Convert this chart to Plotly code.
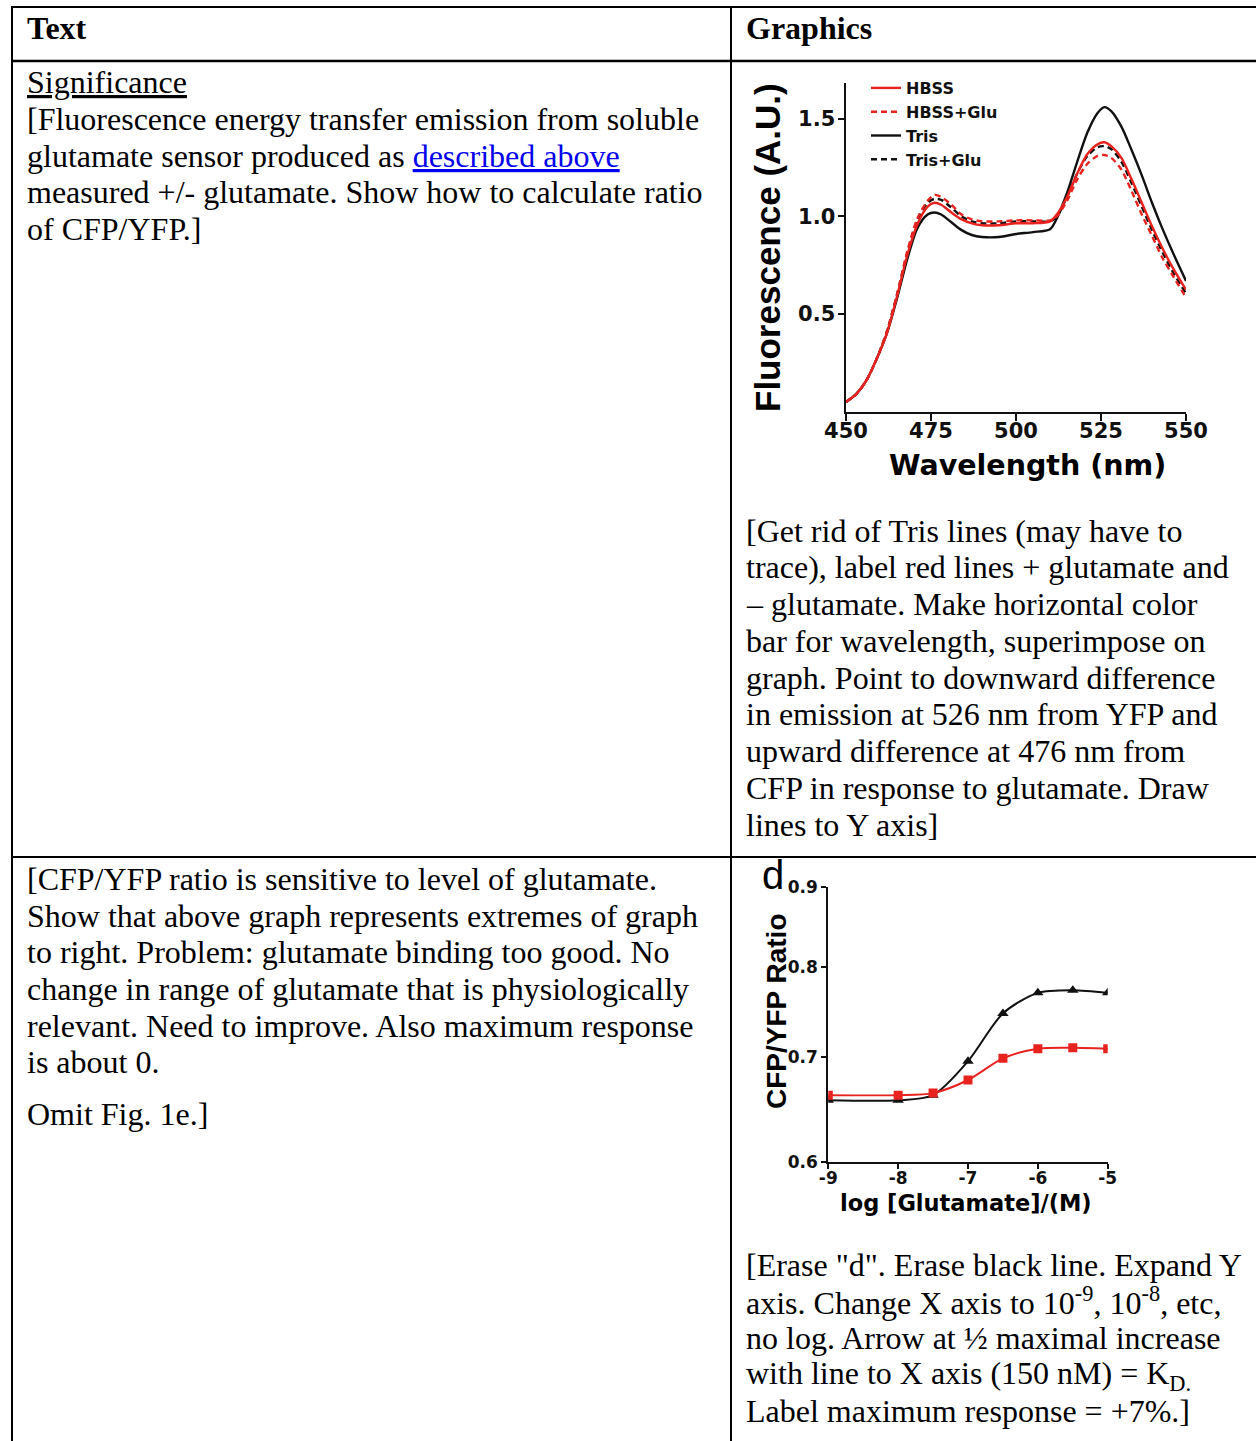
import plotly.graph_objects as go

W, H = 1256, 1441
def fx(p): return p / W
def fy(p): return 1 - p / H

# ---------------- data ----------------
wavelength = [450, 453, 456, 459, 462, 465, 468, 471, 474, 476, 478, 481, 484, 487, 490, 495,
              500, 505, 510, 512, 515, 518, 521, 524, 526, 528, 531, 534, 537, 540, 543, 546, 550]
hbss = [0.05, 0.09, 0.16, 0.27, 0.40, 0.59, 0.80, 0.96, 1.05, 1.07, 1.06, 1.02, 0.985, 0.965, 0.955, 0.955,
        0.965, 0.965, 0.975, 1.01, 1.10, 1.22, 1.32, 1.37, 1.38, 1.36, 1.30, 1.19, 1.07, 0.95, 0.84, 0.74, 0.625]
hbss_glu = [0.05, 0.09, 0.16, 0.27, 0.41, 0.60, 0.82, 0.99, 1.08, 1.11, 1.10, 1.06, 1.01, 0.985, 0.975, 0.975,
            0.98, 0.98, 0.98, 1.00, 1.08, 1.19, 1.27, 1.31, 1.315, 1.30, 1.24, 1.13, 1.01, 0.90, 0.79, 0.70, 0.585]
tris = [0.05, 0.09, 0.16, 0.27, 0.40, 0.58, 0.78, 0.94, 1.01, 1.02, 1.01, 0.97, 0.93, 0.905, 0.895, 0.895,
        0.91, 0.92, 0.935, 0.99, 1.12, 1.28, 1.43, 1.53, 1.56, 1.54, 1.46, 1.34, 1.21, 1.07, 0.94, 0.82, 0.67]
tris_glu = [0.05, 0.09, 0.16, 0.27, 0.41, 0.60, 0.81, 0.98, 1.07, 1.09, 1.085, 1.045, 1.0, 0.975, 0.965, 0.965,
            0.975, 0.975, 0.975, 1.0, 1.10, 1.22, 1.31, 1.355, 1.36, 1.345, 1.28, 1.17, 1.05, 0.93, 0.82, 0.72, 0.605]
spectrum_names = ["HBSS", "HBSS+Glu", "Tris", "Tris+Glu"]
spec_ticks = [450, 475, 500, 525, 550]
fluor_ticks = [0.5, 1.0, 1.5]
fluor_ticktext = ["0.5", "1.0", "1.5"]

log_glu = [-9, -8, -7.5, -7, -6.5, -6, -5.5, -5]
ratio_black = [0.657, 0.657, 0.662, 0.696, 0.747, 0.770, 0.773, 0.770]
ratio_red = [0.662, 0.662, 0.664, 0.677, 0.699, 0.709, 0.710, 0.709]
glu_ticks = [-9, -8, -7, -6, -5]
glu_ticktext = ["-9", "-8", "-7", "-6", "-5"]
ratio_ticks = [0.6, 0.7, 0.8, 0.9]
ratio_ticktext = ["0.6", "0.7", "0.8", "0.9"]

header_left = "Text"
header_right = "Graphics"
row1_left = ["<u>Significance</u>",
             "[Fluorescence energy transfer emission from soluble",
             "glutamate sensor produced as <span style='color:#0000ee'><u>described above</u></span>",
             "measured +/- glutamate. Show how to calculate ratio",
             "of CFP/YFP.]"]
row1_right = ["[Get rid of Tris lines (may have to",
              "trace), label red lines + glutamate and",
              "\u2013 glutamate. Make horizontal color",
              "bar for wavelength, superimpose on",
              "graph. Point to downward difference",
              "in emission at 526 nm from YFP and",
              "upward difference at 476 nm from",
              "CFP in response to glutamate. Draw",
              "lines to Y axis]"]
row2_left = ["[CFP/YFP ratio is sensitive to level of glutamate.",
             "Show that above graph represents extremes of graph",
             "to right. Problem: glutamate binding too good. No",
             "change in range of glutamate that is physiologically",
             "relevant. Need to improve. Also maximum response",
             "is about 0.",
             "Omit Fig. 1e.]"]
row2_right = ["[Erase \"d\". Erase black line. Expand Y",
              "axis. Change X axis to 10<sup>-9</sup>, 10<sup>-8</sup>, etc,",
              "no log. Arrow at \u00bd maximal increase",
              "with line to X axis (150 nM) = K<sub>D.</sub>",
              "Label maximum response = +7%.]"]

# ---------------- layout constants ----------------
RED = "#e8231f"
BLACK = "#111111"
SERIF = "Liberation Serif"
SANS = "Liberation Sans"
DJ = "DejaVu Sans"

fig = go.Figure()

spec_styles = [(RED, "solid"), (RED, "6px,4px"), (BLACK, "solid"), (BLACK, "6px,4px")]
spec_series = [hbss, hbss_glu, tris, tris_glu]
order = [2, 3, 0, 1]
for i in order:
    c, d = spec_styles[i]
    fig.add_trace(go.Scatter(x=wavelength, y=spec_series[i], name=spectrum_names[i], mode="lines",
                             line=dict(color=c, dash=d, width=2.4, shape="spline", smoothing=0.8),
                             xaxis="x", yaxis="y", legendrank=i + 1))

fig.add_trace(go.Scatter(x=log_glu, y=ratio_black, mode="lines+markers", showlegend=False,
                         line=dict(color=BLACK, width=2, shape="spline", smoothing=0.8),
                         marker=dict(symbol="triangle-up", size=10, color=BLACK),
                         xaxis="x2", yaxis="y2"))
fig.add_trace(go.Scatter(x=log_glu, y=ratio_red, mode="lines+markers", showlegend=False,
                         line=dict(color=RED, width=2, shape="spline", smoothing=0.8),
                         marker=dict(symbol="square", size=9, color=RED),
                         xaxis="x2", yaxis="y2"))

tickfont1 = dict(family=DJ, size=21, color=BLACK, weight="bold")
tickfont2 = dict(family=DJ, size=17, color=BLACK, weight="bold")

fig.update_layout(
    width=W, height=H, autosize=False,
    margin=dict(l=0, r=0, t=0, b=0, pad=0, autoexpand=False),
    paper_bgcolor="white", plot_bgcolor="rgba(0,0,0,0)",
    xaxis=dict(domain=[fx(846), fx(1186)], range=[450, 550], tickvals=spec_ticks,
               showgrid=False, zeroline=False, showline=True, linecolor=BLACK, linewidth=2.5,
               ticks="outside", ticklen=7, tickwidth=2, tickcolor=BLACK, tickfont=tickfont1,
               anchor="y", fixedrange=True, automargin=False, ticklabelstandoff=-8),
    yaxis=dict(domain=[fy(411.7), fy(82.7)], range=[0, 1.685], tickvals=fluor_ticks, ticktext=fluor_ticktext,
               showgrid=False, zeroline=False, showline=True, linecolor=BLACK, linewidth=2.5,
               ticks="outside", ticklen=6, tickwidth=2, tickcolor=BLACK, tickfont=tickfont1,
               anchor="x", fixedrange=True, automargin=False, ticklabelstandoff=-2),
    xaxis2=dict(domain=[fx(828.3), fx(1107.7)], range=[-9, -5], tickvals=glu_ticks, ticktext=glu_ticktext,
                showgrid=False, zeroline=False, showline=True, linecolor=BLACK, linewidth=2,
                ticks="outside", ticklen=5, tickwidth=2, tickcolor=BLACK, tickfont=tickfont2,
                anchor="y2", fixedrange=True, automargin=False, ticklabelstandoff=-5),
    yaxis2=dict(domain=[fy(1161.7), fy(887.3)], type="log", range=[-0.22185, -0.04576],
                tickvals=ratio_ticks, ticktext=ratio_ticktext,
                showgrid=False, zeroline=False, showline=True, linecolor=BLACK, linewidth=2,
                ticks="outside", ticklen=5, tickwidth=2, tickcolor=BLACK, tickfont=tickfont2,
                anchor="x2", fixedrange=True, automargin=False, ticklabelstandoff=0),
    legend=dict(x=fx(866), y=fy(71), xanchor="left", yanchor="top", bgcolor="rgba(0,0,0,0)",
                font=dict(family=DJ, size=16, color=BLACK, weight="bold"), traceorder="normal",
                itemwidth=30, tracegroupgap=0),
    showlegend=True,
)

# ---------------- table lines ----------------
def hline(y, x0, x1, w=2):
    fig.add_shape(type="line", xref="paper", yref="paper", x0=fx(x0), x1=fx(x1), y0=fy(y), y1=fy(y),
                  line=dict(color="black", width=w))
def vline(x, y0, y1, w=2):
    fig.add_shape(type="line", xref="paper", yref="paper", x0=fx(x), x1=fx(x), y0=fy(y0), y1=fy(y1),
                  line=dict(color="black", width=w))

hline(7, 12, 1256, 2)
hline(61, 12, 1256, 2.5)
hline(857, 12, 1256, 2)
vline(12, 6, 1441, 2)
vline(731, 6, 1441, 2)

# ---------------- text ----------------
def txt(s, x, y, size=32, bold=False, family=SERIF, **kw):
    fig.add_annotation(text=s, x=fx(x), y=fy(y), xref="paper", yref="paper", showarrow=False,
                       xanchor=kw.pop("xanchor", "left"), yanchor=kw.pop("yanchor", "middle"),
                       font=dict(family=family, size=size, color="black", weight="bold" if bold else "normal"),
                       **kw)

LX, RX = 25, 744
txt(header_left, LX, 28, bold=True)
txt(header_right, RX, 28, bold=True)
for s, y in zip(row1_left, [82, 119, 156, 192, 229]):
    txt(s, LX, y)
for s, y in zip(row1_right, [531, 567, 604, 641, 678, 714, 751, 788, 825]):
    txt(s, RX, y)
for s, y in zip(row2_left, [879, 916, 952, 989, 1026, 1062, 1114]):
    txt(s, LX, y)
for s, y in zip(row2_right, [1265, 1301, 1338, 1375, 1411]):
    txt(s, RX, y)

# chart titles
txt("Fluorescence (A.U.)", 767, 247, size=35, bold=True, family=SANS,
    xanchor="center", textangle=-90)
txt("Wavelength (nm)", 1027, 465, size=28.5, bold=True, family=DJ, xanchor="center")
txt("CFP/YFP Ratio", 776, 1011, size=28, bold=True, family=SANS, xanchor="center", textangle=-90)
txt("log [Glutamate]/(M)", 966, 1203, size=22.5, bold=True, family=DJ, xanchor="center")
txt("d", 773, 875, size=40, family=SANS, xanchor="center")

fig.write_html("out.html", config={"displayModeBar": False, "staticPlot": True},
               post_script="document.body.style.margin='0px';document.body.style.padding='0px';")
